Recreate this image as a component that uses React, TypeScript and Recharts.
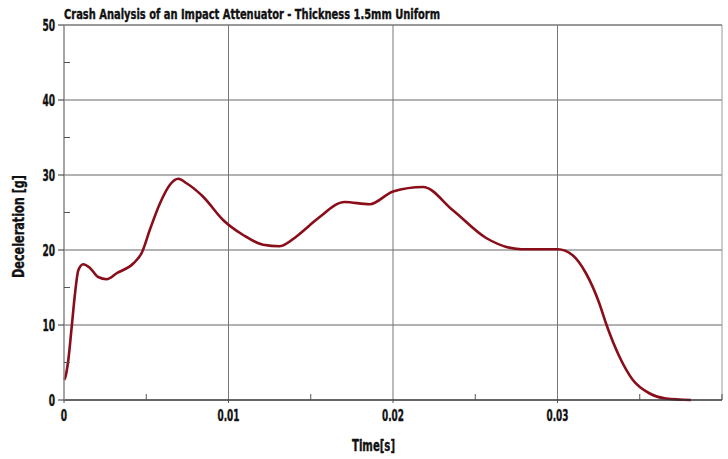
import { LineChart, Line, XAxis, YAxis, ReferenceLine } from 'recharts'

// Time [s] and deceleration [g]
const timeValues = [
  0, 0.00006, 0.00026, 0.00047, 0.00067, 0.00087, 0.00117, 0.00158, 0.00208, 0.00259, 0.0032,
  0.00421, 0.00472, 0.00522, 0.00583, 0.00644, 0.00694, 0.00745, 0.00846, 0.00967, 0.01089,
  0.0121, 0.01311, 0.01413, 0.01494, 0.01554, 0.01706, 0.01858, 0.02, 0.02182, 0.02364,
  0.02566, 0.02779, 0.03001, 0.03092, 0.03173, 0.03254, 0.03295, 0.03376, 0.03457, 0.03558,
  0.03659, 0.03811,
]
const decelValues = [
  2.7, 2.9, 5.3, 9.8, 14.2, 17.3, 18.1, 17.6, 16.4, 16.1, 16.9,
  18.2, 19.6, 22.7, 26.2, 28.7, 29.5, 28.9, 27.1, 24.0, 22.0,
  20.7, 20.5, 21.8, 23.3, 24.4, 26.4, 26.1, 27.8, 28.4, 25.3,
  21.6, 20.1, 20.1, 19.3, 16.9, 12.9, 10.2, 5.8, 2.7, 0.9,
  0.2, 0,
]

const xTicks = [0, 0.005, 0.01, 0.015, 0.02, 0.025, 0.03, 0.035, 0.04]
const xLabels = ['0', '', '0.01', '', '0.02', '', '0.03', '', '']
const yTicks = [0, 5, 10, 15, 20, 25, 30, 35, 40, 45, 50]
const yLabels = ['0', '', '10', '', '20', '', '30', '', '40', '', '50']
const xGrid = [0.01, 0.02, 0.03, 0.04]
const yGrid = [10, 20, 30, 40, 50]

const title = 'Crash Analysis of an Impact Attenuator - Thickness 1.5mm Uniform'
const xTitle = 'Time[s]'
const yTitle = 'Deceleration [g]'

const data = timeValues.map((t, i) => ({ t, g: decelValues[i] }))

const FONT = "'Liberation Sans Narrow', 'Arial Narrow', 'DejaVu Sans Condensed', 'Liberation Sans', Arial, sans-serif"

// the source uses a very condensed heavy face, so text is squeezed to the measured widths
const labelWidth = (s: string) => s.split('').reduce((w, c) => w + (c === '.' ? 3 : 6.3), 0)

const textStyle = {
  fontFamily: FONT,
  fontWeight: 'bold' as const,
  fill: '#111',
  stroke: '#111',
  strokeWidth: 0.35,
  lengthAdjust: 'spacingAndGlyphs',
}

function XTick(props: any) {
  const { x, y, index } = props
  const label = xLabels[index]
  if (!label) {
    return <line x1={x} x2={x} y1={y} y2={y - 6} stroke="#555" strokeWidth={1} />
  }
  return (
    <g>
      <line x1={x} x2={x} y1={y} y2={y + 3} stroke="#555" strokeWidth={1} />
      <text {...textStyle} x={x} y={y + 21} textAnchor="middle" fontSize={15} textLength={labelWidth(label)}>
        {label}
      </text>
    </g>
  )
}

function YTick(props: any) {
  const { x, y, index } = props
  const label = yLabels[index]
  if (!label) {
    return <line x1={x} x2={x + 6} y1={y} y2={y} stroke="#555" strokeWidth={1} />
  }
  const w = labelWidth(label)
  return (
    <g>
      <line x1={x - 6} x2={x} y1={y} y2={y} stroke="#333" strokeWidth={1} />
      <text {...textStyle} x={x - 9 - w} y={y + 5.5} fontSize={15} textLength={w}>
        {label}
      </text>
    </g>
  )
}

export default function App() {
  return (
    <div style={{ position: 'absolute', left: 0, top: 0, width: 728, height: 459, background: '#fff' }}>
      <LineChart
        width={728}
        height={459}
        data={data}
        margin={{ top: 25, right: 6, bottom: 0, left: 0 }}
      >
        <XAxis
          dataKey="t"
          type="number"
          domain={[0, 0.04]}
          ticks={xTicks}
          interval={0}
          height={59}
          tickSize={0}
          tickMargin={0}
          tickLine={false}
          axisLine={{ stroke: '#333', strokeWidth: 1.5 }}
          tick={<XTick />}
        />
        <YAxis
          type="number"
          domain={[0, 50]}
          ticks={yTicks}
          interval={0}
          width={64}
          tickSize={0}
          tickMargin={0}
          tickLine={false}
          axisLine={{ stroke: '#888', strokeWidth: 1.5 }}
          tick={<YTick />}
        />
        {yGrid.map((v) => (
          <ReferenceLine key={'y' + v} y={v} stroke={v === 50 ? '#333' : '#666'} strokeWidth={1} />
        ))}
        {xGrid.map((v) => (
          <ReferenceLine key={'x' + v} x={v} stroke={v === 0.04 ? '#999' : '#777'} strokeWidth={1} />
        ))}
        <Line
          type="monotone"
          dataKey="g"
          stroke="#8a0d1a"
          strokeWidth={2.6}
          dot={false}
          isAnimationActive={false}
        />
      </LineChart>
      <svg
        width={728}
        height={459}
        style={{ position: 'absolute', left: 0, top: 0, pointerEvents: 'none' }}
      >
        <text {...textStyle} x={64} y={19} fontSize={14} textLength={376}>
          {title}
        </text>
        <text {...textStyle} x={352} y={451} fontSize={15} textLength={43}>
          {xTitle}
        </text>
        <text {...textStyle} x={0} y={0} transform="translate(24, 278) rotate(-90)" fontSize={15} textLength={103}>
          {yTitle}
        </text>
      </svg>
    </div>
  )
}
